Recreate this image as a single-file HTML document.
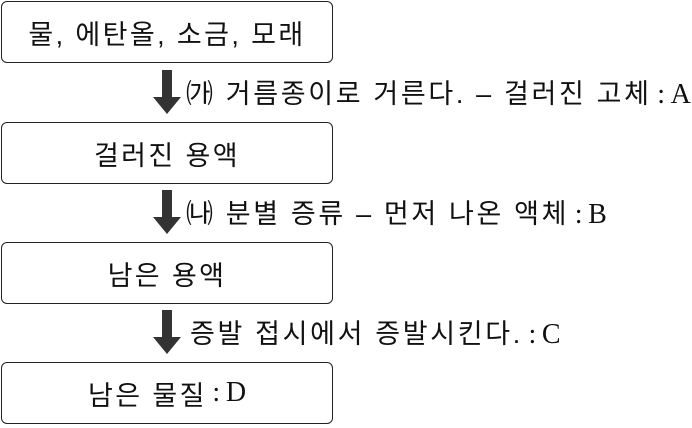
<!DOCTYPE html>
<html><head><meta charset="utf-8"><style>
body{margin:0;width:692px;height:428px;background:#fff;position:relative;overflow:hidden;font-family:"Liberation Sans","Noto Sans CJK KR",sans-serif;color:#111}
.b{position:absolute;left:1px;width:330px;height:60px;border:1.6px solid #222;border-radius:6px;display:flex;align-items:center;justify-content:center;font-size:27px;letter-spacing:2.4px}
.t{position:absolute;left:186px;font-size:27px;letter-spacing:2.65px;white-space:nowrap;line-height:30px}
.s{font-family:"Liberation Serif","Noto Serif CJK SC",serif;font-size:28px;letter-spacing:0}
svg{position:absolute;left:0;top:0}
</style></head><body>
<div class="b" style="top:1px">물, 에탄올, 소금, 모래</div>
<div class="b" style="top:122px">걸러진 용액</div>
<div class="b" style="top:242px">남은 용액</div>
<div class="b" style="top:362px">남은 물질<span class="s">&thinsp;:&thinsp;D</span></div>
<svg width="692" height="428">
<g fill="#333">
<path d="M162 70h10v27h9l-14 17l-14-17h9z"/>
<path d="M162 190h10v27h9l-14 17l-14-17h9z"/>
<path d="M162 310h10v27h9l-14 17l-14-17h9z"/>
</g></svg>
<div class="t" style="top:79px">㈎ 거름종이로 거른다. – 걸러진 고체<span class="s">&thinsp;:&thinsp;A</span></div>
<div class="t" style="top:199px">㈏ 분별 증류 – 먼저 나온 액체<span class="s">&thinsp;:&thinsp;B</span></div>
<div class="t" style="top:319px;left:190px">증발 접시에서 증발시킨다.<span class="s">&thinsp;:&thinsp;C</span></div>
</body></html>
